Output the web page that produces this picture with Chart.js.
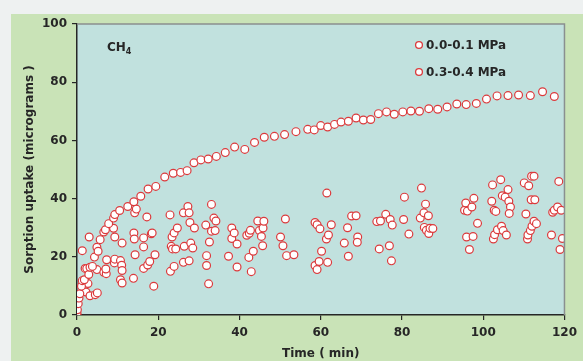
<!DOCTYPE html>
<html>
<head>
<meta charset="utf-8">
<script src="https://cdn.jsdelivr.net/npm/chart.js@4.4.1/dist/chart.umd.min.js"></script>
<style>
  html, body { margin: 0; padding: 0; background: #eef1f1; }
  #chart { display: block; }
</style>
</head>
<body>
<canvas id="chart" width="583" height="361"></canvas>
<script>
// 0.0-0.1 MPa run (time in min, uptake in micrograms)
var t1 = [0,0,0.1,0.3,0.5,0.7,1.1,1.3,1.8,2.4,
  2.9,3.2,3.8,4.3,4.9,5.2,5.7,6.6,7.0,7.8,
  9.0,9.3,10.5,12.5,14.0,15.7,17.5,19.4,21.6,23.7,
  25.5,27.1,28.8,30.5,32.3,34.3,36.5,38.8,41.3,43.7,
  46.1,48.6,51.1,53.9,56.8,58.4,60.0,61.7,63.4,65.0,
  66.8,68.7,70.5,72.3,74.2,76.2,78.1,80.2,82.2,84.3,
  86.6,88.8,91.1,93.5,95.8,98.3,100.8,103.4,106.1,108.7,
  111.6,114.6,117.5];
var u1 = [0,0.7,1.8,3.9,5.8,7.3,9.9,11.8,12.1,16.0,
  13.9,16.4,16.7,19.9,23.3,21.9,25.9,28.5,29.3,31.4,
  33.3,34.5,35.9,37.3,38.9,40.8,43.3,44.2,47.4,48.7,
  49.0,49.6,52.3,53.3,53.6,54.5,55.8,57.7,56.9,59.3,
  61.1,61.4,62.0,63.0,63.8,63.6,65.1,64.6,65.5,66.3,
  66.6,67.7,67.0,67.2,69.2,69.8,69.0,69.8,70.1,70.0,
  70.9,70.7,71.5,72.5,72.3,72.7,74.2,75.3,75.4,75.6,
  75.4,76.7,75.1];

// 0.3-0.4 MPa run
var t2 = [1.3,2.0,2.2,3.0,3.2,2.7,4.5,5.0,4.9,6.6,7.2,7.3,7.1,9.0,9.3,9.2,9.3,10.7,11.0,10.7,11.1,11.1,11.1,
  14.0,14.1,14.2,14.6,14.3,13.9,16.4,16.4,16.4,17.2,17.4,17.9,18.3,18.5,19.2,18.9,
  22.9,23.2,23.4,23.5,23.9,24.7,24.3,23.0,23.9,26.2,26.4,26.2,27.3,27.6,27.8,27.6,28.0,28.5,28.9,
  31.7,31.9,31.9,32.4,32.6,33.1,33.1,33.7,34.0,34.2,37.3,38.1,38.1,38.7,39.4,39.4,
  41.8,42.4,42.3,42.7,42.9,43.4,44.5,44.9,45.4,45.7,45.8,46.0,50.1,50.7,51.3,51.6,53.4,
  58.6,59.1,58.6,59.1,59.6,59.8,60.2,61.5,61.4,61.9,61.7,62.6,
  65.8,66.6,66.8,67.6,68.7,69.1,69.0,73.8,74.7,74.4,76.0,77.1,76.9,77.6,77.4,
  80.4,80.6,81.7,84.8,84.5,85.4,85.8,86.5,85.5,86.0,86.6,86.9,87.6,
  95.4,95.7,96.1,95.9,96.6,97.2,97.5,97.7,98.6,102.1,102.3,102.5,102.8,102.7,103.1,103.5,104.3,104.5,104.7,104.9,105.4,105.7,106.1,106.3,106.7,106.4,
  110.1,110.5,111.2,110.9,111.0,111.6,111.9,112.5,111.8,112.7,112.0,112.5,113.1,116.8,117.1,117.5,118.3,118.6,118.9,119.2,119.5];
var u2 = [22.1,16.0,7.9,26.8,6.6,10.8,7.0,7.6,15.6,14.7,14.2,19.0,15.8,29.8,26.8,17.9,19.2,18.7,17.1,12.1,11.0,15.3,24.7,
  28.2,26.1,35.1,36.4,20.7,12.6,26.5,23.4,16.0,33.7,17.2,18.4,27.9,28.2,20.7,9.9,
  34.4,23.6,26.8,22.7,28.2,29.9,22.7,15.0,16.7,35.1,23.6,18.1,37.3,35.1,31.8,18.6,24.7,23.0,29.9,
  30.9,20.4,17.0,10.7,25.1,38.0,28.8,33.3,29.0,32.3,20.2,29.9,26.3,28.2,24.4,16.5,
  27.4,28.1,19.8,29.1,14.9,21.9,32.3,29.0,27.0,23.8,29.9,32.2,26.8,23.8,33.0,20.4,20.7,
  31.8,31.0,17.0,15.6,18.4,29.6,21.9,41.9,26.1,27.5,18.1,31.0,
  24.7,30.0,20.2,34.0,34.1,26.8,25.0,32.1,32.3,22.7,34.6,32.8,23.8,30.9,18.6,
  32.8,40.5,27.8,43.6,33.3,35.1,38.1,34.1,30.1,29.1,28.0,29.8,29.7,
  36.0,38.5,35.7,26.8,22.5,37.1,27.0,40.1,31.5,39.1,44.7,26.1,27.6,36.0,35.6,29.3,46.5,30.5,41.0,29.0,40.5,27.5,43.1,39.1,37.1,34.9,
  45.4,34.7,44.4,26.1,27.5,29.0,47.7,47.7,39.6,39.6,30.5,32.2,31.4,27.5,35.3,36.0,37.1,45.9,22.5,36.0,26.3];

var seriesNames = ['0.0-0.1 MPa', '0.3-0.4 MPa'];
var xTicks = [0, 20, 40, 60, 80, 100, 120];
var yTicks = [0, 20, 40, 60, 80, 100];

function pts(xs, ys) {
  return xs.map(function(x, i) { return {x: x, y: ys[i]}; });
}

var RED = '#db3a3c';
var INK = '#262626';
var FONT = '"DejaVu Sans", Verdana, sans-serif';

// page / panel / plot backgrounds, then frame + CH4 + legend on top
var decor = {
  id: 'decor',
  beforeDraw: function(chart) {
    var ctx = chart.ctx, a = chart.chartArea;
    ctx.save();
    ctx.fillStyle = '#eef1f1';
    ctx.fillRect(0, 0, chart.width, chart.height);
    ctx.fillStyle = '#c9e3b7';
    ctx.fillRect(11, 14, chart.width - 11, chart.height - 14);
    ctx.fillStyle = '#c1e1de';
    ctx.fillRect(a.left, a.top, a.right - a.left, a.bottom - a.top);
    ctx.restore();
  },
  afterDraw: function(chart) {
    var ctx = chart.ctx, a = chart.chartArea;
    ctx.save();
    // top and right frame lines are grey
    ctx.strokeStyle = '#8a8f8f';
    ctx.lineWidth = 1.5;
    ctx.beginPath();
    ctx.moveTo(a.left, a.top);
    ctx.lineTo(a.right, a.top);
    ctx.lineTo(a.right, a.bottom);
    ctx.stroke();

    // CH4 label
    ctx.fillStyle = INK;
    ctx.textBaseline = 'alphabetic';
    ctx.font = 'bold 12px ' + FONT;
    ctx.fillText('CH', 107, 51);
    var w = ctx.measureText('CH').width;
    ctx.font = 'bold 8px ' + FONT;
    ctx.fillText('4', 107 + w, 54);

    // legend
    var ds = chart.data.datasets;
    for (var i = 0; i < ds.length; i++) {
      var y = 45 + i * 27;
      ctx.beginPath();
      ctx.arc(419, y, 3.4, 0, Math.PI * 2);
      ctx.fillStyle = '#ffffff';
      ctx.fill();
      ctx.lineWidth = 1.3;
      ctx.strokeStyle = ds[i].borderColor;
      ctx.stroke();
      ctx.fillStyle = INK;
      ctx.font = 'bold 12px ' + FONT;
      ctx.textBaseline = 'middle';
      ctx.fillText(ds[i].label, 426, y + 1);
    }
    ctx.restore();
  }
};

new Chart(document.getElementById('chart'), {
  type: 'scatter',
  data: {
    datasets: [
      { label: seriesNames[0], data: pts(t1, u1), pointRadius: 3.9, pointBorderWidth: 1.2,
        pointBackgroundColor: '#ffffff', borderColor: RED, pointBorderColor: RED },
      { label: seriesNames[1], data: pts(t2, u2), pointRadius: 3.9, pointBorderWidth: 1.2,
        pointBackgroundColor: '#ffffff', borderColor: RED, pointBorderColor: RED }
    ]
  },
  options: {
    responsive: false,
    devicePixelRatio: 1,
    animation: false,
    layout: { padding: { left: 0, top: 24, right: 17, bottom: 0 } },
    plugins: { legend: { display: false }, tooltip: { enabled: false } },
    scales: {
      x: {
        type: 'linear', min: 0, max: 120,
        afterBuildTicks: function(s) { s.ticks = xTicks.map(function(v) { return {value: v}; }); },
        afterFit: function(s) { s.height = 46; },
        grid: { drawOnChartArea: false, drawTicks: true, tickLength: 5, color: INK, lineWidth: 1.2 },
        border: { display: true, color: INK, width: 1.5 },
        ticks: { color: INK, padding: 6, font: { family: FONT, size: 12, weight: 'bold' } },
        title: { display: true, text: 'Time ( min)', color: INK, padding: { top: 0, bottom: 0 },
                 font: { family: FONT, size: 12, weight: 'bold' } }
      },
      y: {
        type: 'linear', min: 0, max: 100,
        afterBuildTicks: function(s) { s.ticks = yTicks.map(function(v) { return {value: v}; }); },
        afterFit: function(s) { s.width = 77; },
        grid: { drawOnChartArea: false, drawTicks: true, tickLength: 5, color: INK, lineWidth: 1.2 },
        border: { display: true, color: INK, width: 1.5 },
        ticks: { color: INK, padding: 5, font: { family: FONT, size: 12, weight: 'bold' } },
        title: { display: true, text: 'Sorption uptake (micrograms )', color: INK, padding: { top: 23, bottom: 0 },
                 font: { family: FONT, size: 12, weight: 'bold' } }
      }
    }
  },
  plugins: [decor]
});
</script>
</body>
</html>
